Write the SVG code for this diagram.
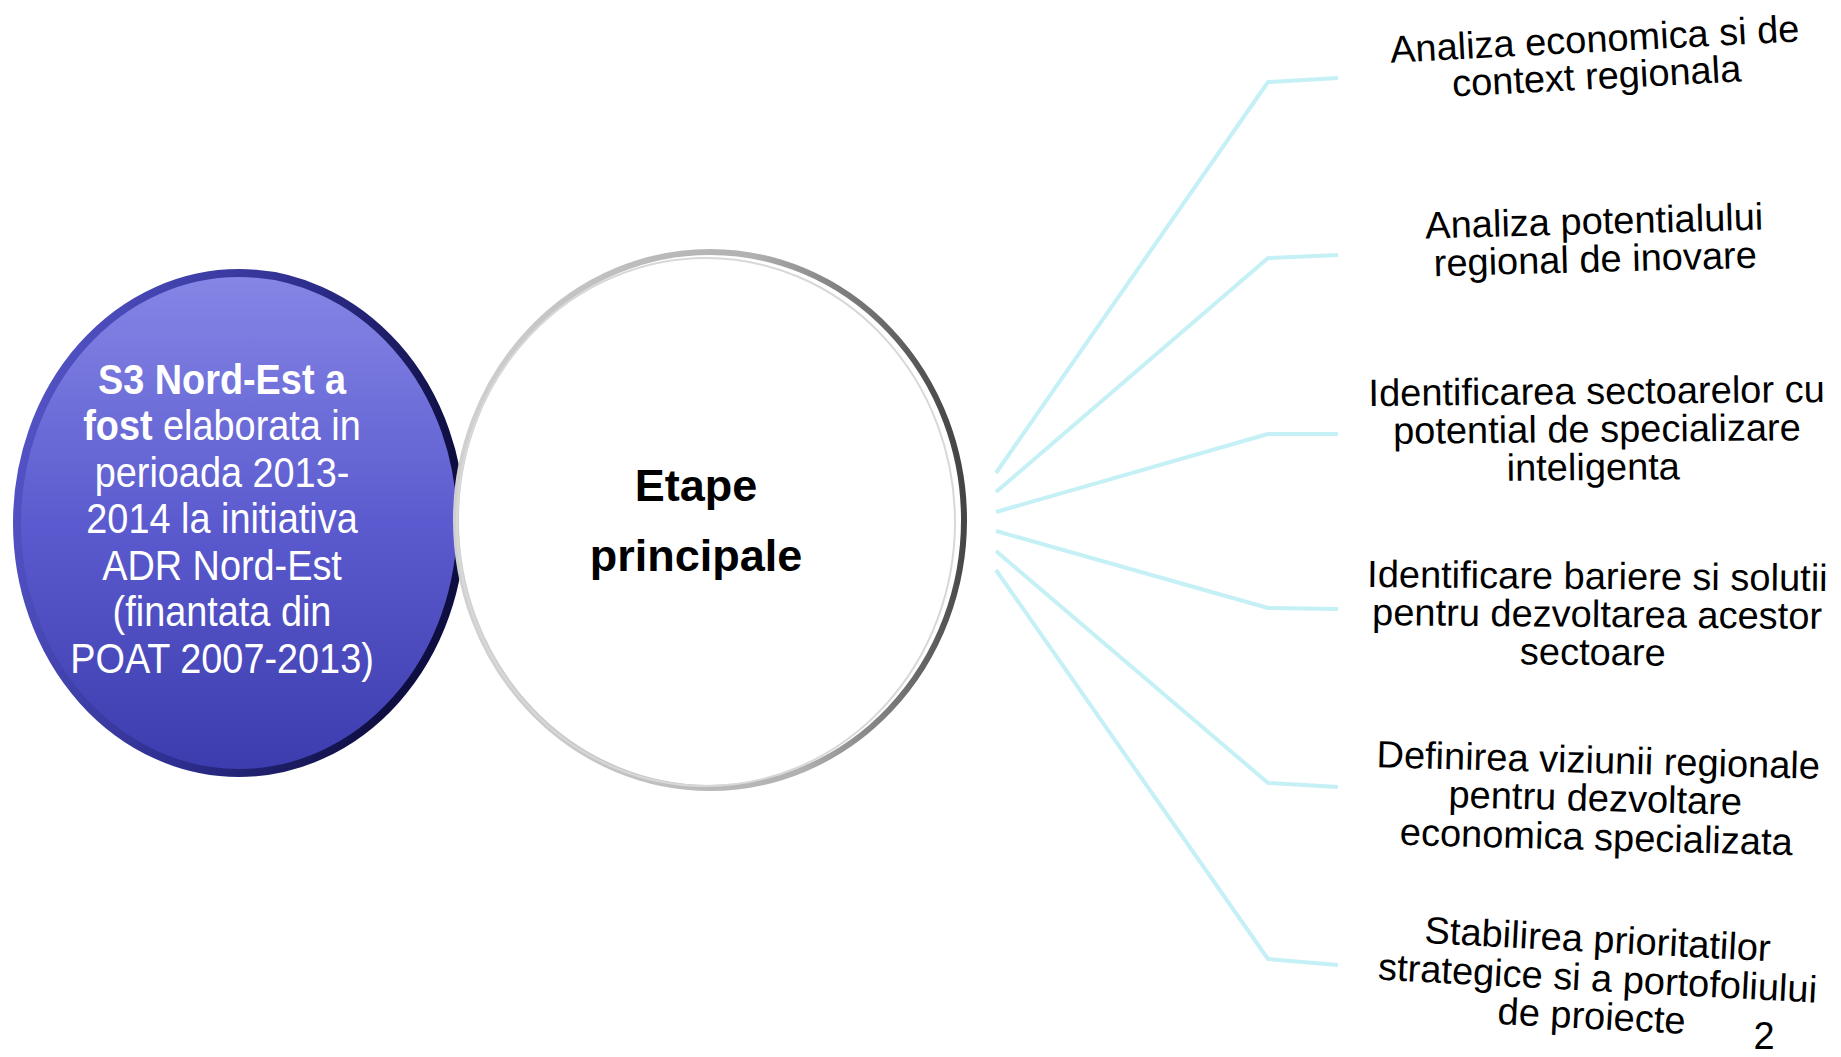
<svg xmlns="http://www.w3.org/2000/svg" width="1841" height="1057" viewBox="0 0 1841 1057">
<defs>
<linearGradient id="blueFill" x1="0" y1="0" x2="0" y2="1">
<stop offset="0" stop-color="#8686e6"/>
<stop offset="0.5" stop-color="#5b5bcf"/>
<stop offset="1" stop-color="#3c3cae"/>
</linearGradient>
<linearGradient id="blueRim" x1="0" y1="0" x2="1" y2="0.3">
<stop offset="0" stop-color="#5a5ad0"/>
<stop offset="0.6" stop-color="#2e2e90"/>
<stop offset="1" stop-color="#0e0e40"/>
</linearGradient>
<linearGradient id="greyRim" x1="0" y1="0.2" x2="1" y2="0.1">
<stop offset="0" stop-color="#d0d0d0"/>
<stop offset="0.6" stop-color="#b0b0b0"/>
<stop offset="1" stop-color="#3a3a3a"/>
</linearGradient>
<style>
.conn{fill:none;stroke:#c4f0f6;stroke-width:4;stroke-linejoin:round}
.lbl{font-family:"Liberation Sans",Arial,sans-serif;font-size:38px;fill:#000;text-anchor:middle}
.blue{font-family:"Liberation Sans",Arial,sans-serif;font-size:43px;fill:#fff;text-anchor:middle}
.hub{font-family:"Liberation Sans",Arial,sans-serif;font-size:45px;font-weight:bold;fill:#000;text-anchor:middle}
</style>
</defs>
<rect width="1841" height="1057" fill="#fff"/>

<g id="connectors">
<polyline class="conn" points="996,473 1268,82 1338,78"/>
<polyline class="conn" points="996,492 1268,258 1338,255"/>
<polyline class="conn" points="996,512 1268,434 1338,434"/>
<polyline class="conn" points="996,531 1268,608 1338,609"/>
<polyline class="conn" points="996,551 1268,783 1338,787"/>
<polyline class="conn" points="996,570 1268,959 1338,965"/>
</g>

<g id="node-s3">
<ellipse cx="239" cy="523" rx="222" ry="250" fill="url(#blueFill)" stroke="url(#blueRim)" stroke-width="8"/>
<g transform="translate(222,0) scale(0.88,1)">
<text class="blue" x="0" y="394"><tspan font-weight="bold">S3 Nord-Est a</tspan></text>
<text class="blue" x="0" y="440"><tspan font-weight="bold">fost</tspan> elaborata in</text>
<text class="blue" x="0" y="487">perioada 2013-</text>
<text class="blue" x="0" y="533">2014 la initiativa</text>
<text class="blue" x="0" y="580">ADR Nord-Est</text>
<text class="blue" x="0" y="626">(finantata din</text>
<text class="blue" x="0" y="673">POAT 2007-2013)</text>
</g>
</g>

<g id="node-etape">
<ellipse cx="710" cy="520" rx="254" ry="268" fill="#fff" stroke="url(#greyRim)" stroke-width="6"/>
<ellipse cx="706" cy="522" rx="249" ry="264" fill="none" stroke="#d8d8d8" stroke-width="2"/>
<text class="hub" x="696" y="501">Etape</text>
<text class="hub" x="696" y="571">principale</text>
</g>

<g id="step1" transform="rotate(-3 1596 65)">
<text class="lbl" x="1596" y="52">Analiza economica si de</text>
<text class="lbl" x="1596" y="89">context regionala</text>
</g>
<g id="step2" transform="rotate(-1.5 1595 250)">
<text class="lbl" x="1595" y="234">Analiza potentialului</text>
<text class="lbl" x="1595" y="272">regional de inovare</text>
</g>
<g id="step3" transform="rotate(-0.5 1597 440)">
<text class="lbl" x="1597" y="404">Identificarea sectoarelor cu</text>
<text class="lbl" x="1597" y="442">potential de specializare</text>
<text class="lbl" x="1593" y="480">inteligenta</text>
</g>
<g id="step4" transform="rotate(0.5 1597 625)">
<text class="lbl" x="1597" y="589">Identificare bariere si solutii</text>
<text class="lbl" x="1597" y="627">pentru dezvoltarea acestor</text>
<text class="lbl" x="1593" y="665">sectoare</text>
</g>
<g id="step5" transform="rotate(1.5 1597 810)">
<text class="lbl" x="1597" y="773">Definirea viziunii regionale</text>
<text class="lbl" x="1595" y="811">pentru dezvoltare</text>
<text class="lbl" x="1597" y="850">economica specializata</text>
</g>
<g id="step6" transform="rotate(3 1595 990)">
<text class="lbl" x="1595" y="952">Stabilirea prioritatilor</text>
<text class="lbl" x="1597" y="991">strategice si a portofoliului</text>
<text class="lbl" x="1593" y="1029">de proiecte</text>
</g>
<text class="lbl" x="1764" y="1049" font-size="34">2</text>
</svg>
